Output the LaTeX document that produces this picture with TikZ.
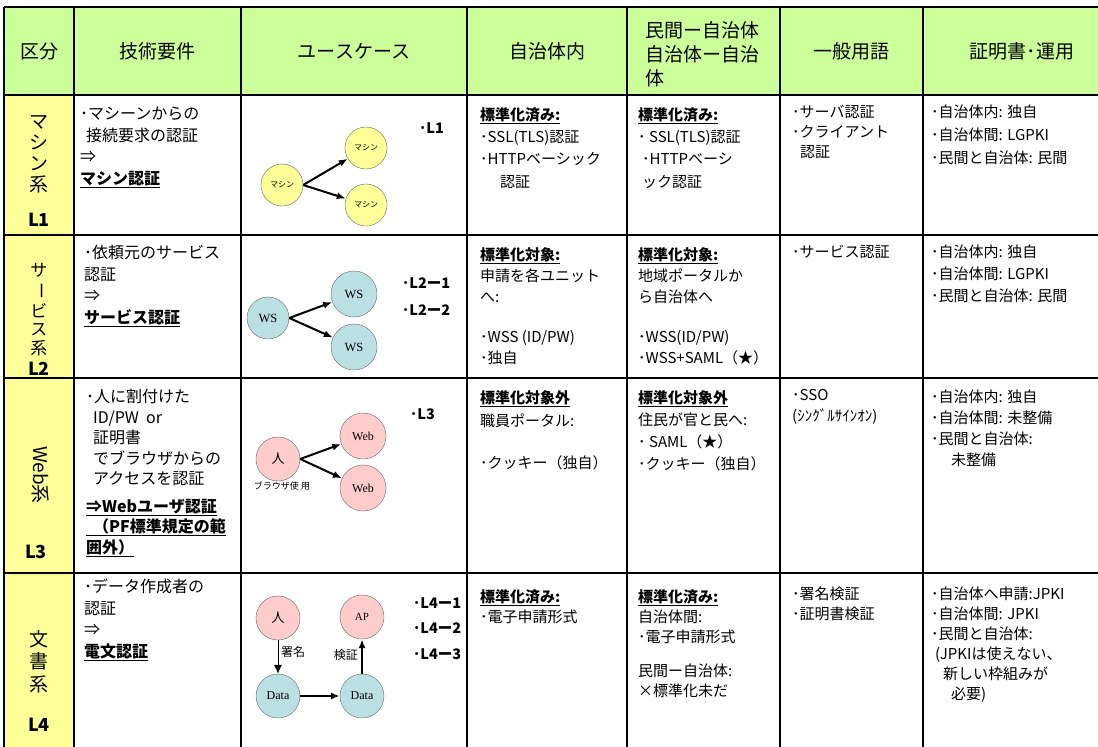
\documentclass[tikz,border=0pt]{standalone}
\usepackage{fontspec}
\usepackage{graphicx}
\setmainfont{Noto Sans CJK JP}
\newfontfamily\serif{Liberation Serif}
\usetikzlibrary{arrows.meta,positioning}

\definecolor{hdrgreen}{RGB}{204,255,153}
\definecolor{sideyellow}{RGB}{255,255,153}
\definecolor{wsblue}{RGB}{187,224,228}
\definecolor{webpink}{RGB}{255,204,204}

\newcommand{\udb}[1]{{\bfseries\underline{#1}}}

\tikzset{
  hdr/.style={inner sep=0pt, font=\fontsize{19}{24}\selectfont},
  side/.style={inner sep=0pt, align=center, font=\fontsize{19}{#1}\selectfont},
  side/.default=21,
  lvl/.style={inner sep=0pt, font=\fontsize{18}{18}\selectfont\bfseries},
  cell/.style={anchor=north west, inner sep=0pt, align=left, font=\fontsize{15}{#1}\selectfont},
  cell/.default=21,
  req/.style={anchor=north west, inner sep=0pt, align=left, font=\fontsize{16}{#1}\selectfont},
  req/.default=21.5,
  tag/.style={anchor=west, inner sep=0pt, font=\fontsize{14.5}{14.5}\selectfont\bfseries},
  actor/.style={circle, draw=black!60, inner sep=0pt, minimum size=#1},
  actor/.default=44pt,
  arr/.style={-{Latex[length=9pt,width=7pt]}, line width=2pt},
  grid/.style={line width=2.8pt}
}

\begin{document}
\begin{tikzpicture}[x=1pt,y=-1pt]
  \useasboundingbox (0,0) rectangle (1098,747);

  % table background and lines
  \fill[hdrgreen] (4,7) rectangle (1110,95);
  \fill[sideyellow] (4,95) rectangle (74,760);
  \draw[grid] (4,7) -- (1110,7);
  \draw[grid] (4,95) -- (1110,95);
  \draw[grid] (4,235) -- (1110,235);
  \draw[grid] (4,378) -- (1110,378);
  \draw[grid] (4,573) -- (1110,573);
  \draw[grid] (4,7) -- (4,760);
  \draw[grid] (74,7) -- (74,760);
  \draw[grid] (241,7) -- (241,760);
  \draw[grid] (467,7) -- (467,760);
  \draw[grid] (627,7) -- (627,760);
  \draw[grid] (780,7) -- (780,760);
  \draw[grid] (923,7) -- (923,760);

  % header
  \node[hdr] (h1) at (39,51) {区分};
  \node[hdr] (h2) at (157,51) {技術要件};
  \node[hdr] (h3) at (354,51) {ユースケース};
  \node[hdr] (h4) at (547,51) {自治体内};
  \node[hdr, anchor=north west, align=left] (h5) at (645,21) {民間ー自治体\\自治体ー自治\\体};
  \node[hdr] (h6) at (851,51) {一般用語};
  \node[hdr] (h7) at (1022,51) {証明書･運用};

  % left column
  \node[side, anchor=north] (k1) at (39,115) {マ\\シ\\ン\\系};
  \node[lvl] (v1) at (39,220) {L1};
  \node[side, font=\fontsize{17}{17}\selectfont] (k2a) at (39,270) {サ};
  \node[side, font=\fontsize{17}{17}\selectfont, rotate=-90] (k2b) at (39,291) {ー};
  \node[side, font=\fontsize{17}{17}\selectfont] (k2c) at (39,311) {ビ};
  \node[side, font=\fontsize{17}{17}\selectfont] (k2d) at (39,330) {ス};
  \node[side, font=\fontsize{17}{17}\selectfont] (k2e) at (39,348) {系};
  \node[lvl] (v2) at (39,369) {L2};
  \node[side, rotate=-90] (k3) at (41,475) {Web系};
  \node[lvl] (v3) at (36,552) {L3};
  \node[side=22.5, anchor=north] (k4) at (39,630) {文\\書\\系};
  \node[lvl] (v4) at (39,725) {L4};

  % technical requirements
  \node[req] (r1) at (80,107) {･マシーンからの\\\hspace*{6pt}接続要求の認証\\⇒\\\udb{マシン認証}};
  \node[req] (r2) at (84,245) {･依頼元のサービス\\認証\\⇒\\\udb{サービス認証}};
  \node[req=20.5] (r3) at (86,389) {･人に割付けた\\\hspace*{7pt}ID/PW\ \ or\\\hspace*{7pt}証明書\\\hspace*{7pt}でブラウザからの\\\hspace*{7pt}アクセスを認証\\[7pt]\udb{⇒Webユーザ認証}\\\udb{\hspace*{7pt}（PF標準規定の範}\\\udb{囲外）}};
  \node[req] (r4) at (84,579) {･データ作成者の\\認証\\⇒\\\udb{電文認証}};

  % use cases: L1
  \node[actor=42pt, fill=sideyellow, font=\fontsize{8}{8}\selectfont] (m0) at (282,185) {マシン};
  \node[actor=42pt, fill=sideyellow, font=\fontsize{8}{8}\selectfont] (m1) at (366,148) {マシン};
  \node[actor=42pt, fill=sideyellow, font=\fontsize{8}{8}\selectfont] (m2) at (366,205) {マシン};
  \draw[arr] (m0.east) -- (m1);
  \draw[arr] (m0.east) -- (m2);
  \node[tag] (l1) at (419,128) {･L1};

  % use cases: L2
  \node[actor=42pt, fill=wsblue, font=\serif\fontsize{12.5}{12.5}\selectfont] (w0) at (268,318) {WS};
  \node[actor=46pt, fill=wsblue, font=\serif\fontsize{12.5}{12.5}\selectfont] (w1) at (354,294) {WS};
  \node[actor=46pt, fill=wsblue, font=\serif\fontsize{12.5}{12.5}\selectfont] (w2) at (354,347) {WS};
  \draw[arr] (w0.east) -- (w1);
  \draw[arr] (w0.east) -- (w2);
  \node[tag] (l21) at (402,283) {･L2ー1};
  \node[tag] (l22) at (402,310) {･L2ー2};

  % use cases: L3
  \node[actor, fill=webpink, font=\fontsize{13}{13}\selectfont] (p0) at (278,459) {人};
  \node[actor=46pt, fill=webpink, font=\serif\fontsize{12}{12}\selectfont] (b1) at (363,436) {Web};
  \node[actor=46pt, fill=webpink, font=\serif\fontsize{12}{12}\selectfont] (b2) at (363,488) {Web};
  \draw[arr] (p0.east) -- (b1);
  \draw[arr] (p0.east) -- (b2);
  \node[inner sep=0pt, font=\fontsize{9}{9}\selectfont] (u0) at (282,486) {ブラウザ使 用};
  \node[tag] (l3) at (410,414) {･L3};

  % use cases: L4
  \node[actor, fill=webpink, font=\fontsize{13}{13}\selectfont] (q0) at (278,618) {人};
  \node[actor, fill=webpink, font=\serif\fontsize{11}{11}\selectfont] (ap) at (362,617) {AP};
  \node[actor, fill=wsblue, font=\serif\fontsize{12}{12}\selectfont] (d0) at (278,696) {Data};
  \node[actor, fill=wsblue, font=\serif\fontsize{12}{12}\selectfont] (d1) at (362,696) {Data};
  \draw[-{Latex[length=9pt,width=8pt]}, line width=0.8pt] (q0) -- (d0);
  \draw[arr] (d0) -- (d1);
  \draw[arr, line width=2.6pt] (d1) -- (ap);
  \node[anchor=west, inner sep=0pt, font=\fontsize{12}{12}\selectfont] (sg) at (281,652) {署名};
  \node[anchor=east, inner sep=0pt, font=\fontsize{12}{12}\selectfont] (vf) at (358,655) {検証};
  \node[tag] (l41) at (413,603) {･L4ー1};
  \node[tag] (l42) at (413,628) {･L4ー2};
  \node[tag] (l43) at (413,654) {･L4ー3};

  % within municipality
  \node[cell=22.3] (a1) at (480,107) {\udb{標準化済み:}\\･SSL(TLS)認証\\･HTTPベーシック\\\hspace*{20pt}認証};
  \node[cell] (a2) at (480,247) {\udb{標準化対象:}\\申請を各ユニット\\へ:\\[19pt]･WSS (ID/PW)\\･独自};
  \node[cell=23] (a3) at (480,390) {\udb{標準化対象外}\\職員ポータル:\\[19pt]･クッキー（独自）};
  \node[cell=20] (a4) at (480,589) {\udb{標準化済み:}\\･電子申請形式};

  % private - municipality
  \node[cell=22.3] (c1) at (638,107) {\udb{標準化済み:}\\･\ SSL(TLS)認証\\\hspace*{4pt}･HTTPベーシ\\\hspace*{4pt}ック認証};
  \node[cell] (c2) at (638,247) {\udb{標準化対象:}\\地域ポータルか\\ら自治体へ\\[19pt]･WSS(ID/PW)\\･WSS+SAML（★）};
  \node[cell=22] (c3) at (638,390) {\udb{標準化対象外}\\住民が官と民へ:\\･\ SAML（★）\\･クッキー（独自）};
  \node[cell=20] (c4) at (638,589) {\udb{標準化済み:}\\自治体間:\\･電子申請形式\\[14pt]民間ー自治体:\\×標準化未だ};

  % general terms
  \node[cell=20] (g1) at (792,105) {･サーバ認証\\･クライアント\\\hspace*{8pt}認証};
  \node[cell] (g2) at (792,245) {･サービス認証};
  \node[cell] (g3) at (792,389) {･SSO\\(ｼﾝｸﾞﾙｻｲﾝｵﾝ)};
  \node[cell=20] (g4) at (792,587) {･署名検証\\･証明書検証};

  % certificates and operation
  \node[cell=23] (o1) at (931,105) {･自治体内: 独自\\･自治体間: LGPKI\\･民間と自治体: 民間};
  \node[cell=22] (o2) at (931,245) {･自治体内: 独自\\･自治体間: LGPKI\\･民間と自治体: 民間};
  \node[cell] (o3) at (931,390) {･自治体内: 独自\\･自治体間: 未整備\\･民間と自治体:\\\hspace*{20pt}未整備};
  \node[cell=20] (o4) at (931,587) {･自治体へ申請:JPKI\\･自治体間: JPKI\\･民間と自治体:\\\hspace*{4pt}(JPKIは使えない、\\\hspace*{12pt}新しい枠組みが\\\hspace*{20pt}必要)};
\end{tikzpicture}
\end{document}
